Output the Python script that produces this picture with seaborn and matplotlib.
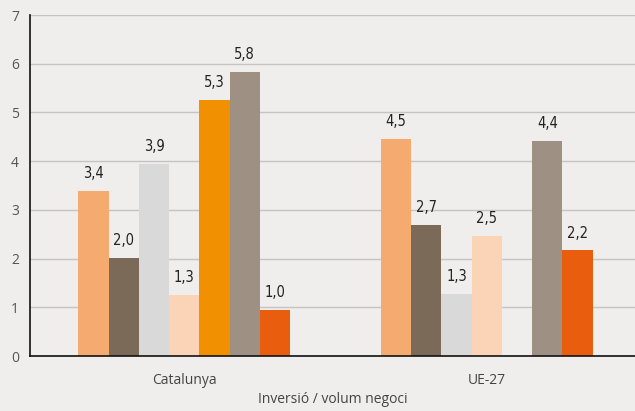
import numpy as np
import pandas as pd
import matplotlib
matplotlib.use('Agg')
import matplotlib.pyplot as plt
import seaborn as sns

groups = ['Catalunya', 'UE-27']
series = ['S1', 'S2', 'S3', 'S4', 'S5', 'S6', 'S7']
# bar heights as drawn, and the rounded labels printed above them
catalunya = [3.39, 2.01, 3.94, 1.26, 5.26, 5.84, 0.95]
ue27 = [4.46, 2.69, 1.28, 2.46, np.nan, 4.42, 2.17]
catalunya_labels = ['3,4', '2,0', '3,9', '1,3', '5,3', '5,8', '1,0']
ue27_labels = ['4,5', '2,7', '1,3', '2,5', '', '4,4', '2,2']
colors = ['#F5AA70', '#7B6A58', '#D9D9D9', '#FBD3B6', '#F19101', '#9E9083', '#E95D0F']
yticks = [0, 1, 2, 3, 4, 5, 6, 7]

rows = []
for g, vals in zip(groups, [catalunya, ue27]):
    for s, v in zip(series, vals):
        rows.append({'grup': g, 'serie': s, 'valor': v})
df = pd.DataFrame(rows)

bg = '#EFEEEC'
sns.set_theme(style='white')
plt.rcParams['font.family'] = ['Open Sans', 'DejaVu Sans']

fig = plt.figure(figsize=(6.35, 4.11), dpi=100, facecolor=bg)
ax = fig.add_axes([30 / 635, 1 - 356 / 411, 1 - 30 / 635, (356 - 15) / 411])
ax.set_facecolor(bg)

sns.barplot(data=df, x='grup', y='valor', hue='serie', hue_order=series,
            palette=colors, width=0.7, saturation=1, legend=False, ax=ax,
            linewidth=0)

# value labels (one container per series, bars ordered by group)
for i, cont in enumerate(ax.containers):
    for bar, labels in zip(cont, [catalunya_labels, ue27_labels]):
        h = bar.get_height()
        if np.isnan(h) or h == 0 or not labels[i]:
            continue
        ax.annotate(labels[i],
                    (bar.get_x() + bar.get_width() / 2, h),
                    xytext=(0, 7), textcoords='offset points',
                    ha='center', va='bottom', fontsize=10.5,
                    family='DejaVu Sans', fontstretch='condensed', color='#222222')

ax.set_ylim(0, 7)
ax.set_yticks(yticks)
ax.yaxis.grid(True, color='#C4C4C4', linewidth=1)
ax.set_axisbelow(True)
ax.set_xlim(-0.51, 1.49)

for side in ['top', 'right']:
    ax.spines[side].set_visible(False)
for side in ['left', 'bottom']:
    ax.spines[side].set_color('#111111')
    ax.spines[side].set_linewidth(1.2)

ax.tick_params(axis='y', length=0, pad=8, labelsize=10, labelcolor='#555555')
ax.tick_params(axis='x', length=0, pad=12, labelsize=10, labelcolor='#444444')
ax.set_ylabel('')
ax.set_xlabel('Inversió / volum negoci', fontsize=10, color='#444444', labelpad=3)

fig.savefig('out.png', dpi=100, facecolor=bg)
